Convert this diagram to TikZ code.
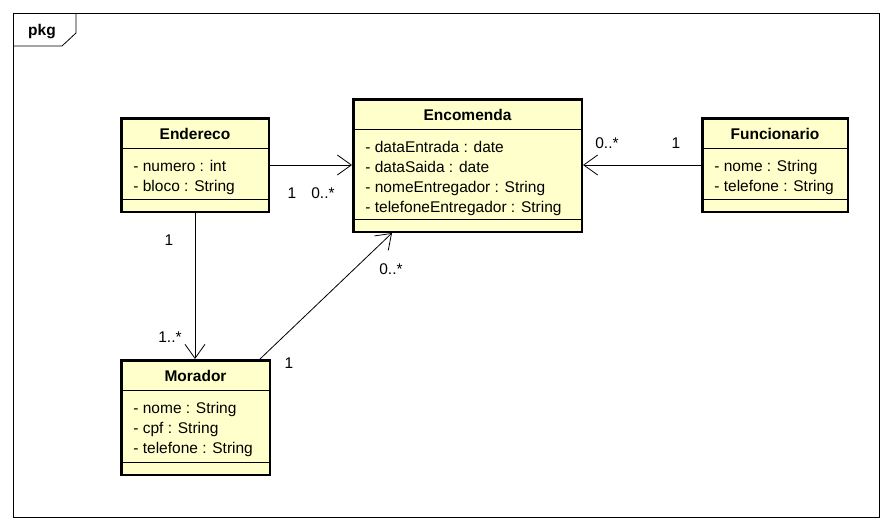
\documentclass[tikz,border=0pt]{standalone}
\usepackage{fontspec}
\setmainfont{Liberation Sans}
\usetikzlibrary{calc,arrows.meta}
\definecolor{classfill}{RGB}{255,255,204}
\tikzset{>={Straight Barb[length=14pt,width=20pt]}}
\tikzset{
  umlbox/.style={draw,line width=2.5pt,fill=classfill,anchor=north west,inner sep=0pt},
  txt/.style={font=\fontsize{15.5}{20}\selectfont,inner sep=0pt},
}
\newcommand{\umlclass}[6]{% name, corner, width, height, title, attributes
  \node[umlbox,minimum width={#3pt-2.5pt},minimum height={#4pt-2.5pt}] (#1) at #2 {};
  \draw ($(#1.north west)+(0,31)$) -- ($(#1.north east)+(0,31)$);
  \draw ($(#1.south west)+(0,-14)$) -- ($(#1.south east)+(0,-14)$);
  \node[txt,font=\fontsize{15.5}{20}\selectfont\bfseries,anchor=base] (#1-name) at ($(#1.north)+(0,22)$) {#5};
  \foreach \a [count=\i] in {#6}
    \node[txt,anchor=base west] (#1-\i) at ($(#1.north west)+(13,34+20*\i)$) {\a};
}

\begin{document}
\begin{tikzpicture}[x=1pt,y=-1pt,line width=0.8pt]
  \useasboundingbox (0,0) rectangle (892,530);
  \draw (13,13) rectangle (879,517);
  \draw (13,46) -- (62,46) -- (76,33) -- (76,13);
  \node[txt,font=\fontsize{15.5}{20}\selectfont\bfseries,anchor=base] (pkg) at (42,35) {pkg};

  \umlclass{endereco}{(120,117)}{150}{96}{Endereco}{- numero : int, - bloco : String}
  \umlclass{encomenda}{(352,98)}{231}{135}{Encomenda}{- dataEntrada : date, - dataSaida : date, - nomeEntregador : String, - telefoneEntregador : String}
  \umlclass{morador}{(120,359)}{151}{117}{Morador}{- nome : String, - cpf : String, - telefone : String}
  \umlclass{funcionario}{(701,117)}{148}{96}{Funcionario}{- nome : String, - telefone : String}

  \draw[->] (endereco.east) -- (endereco.east -| encomenda.west);
  \draw[->] (endereco.south) -- (endereco.south |- morador.north);
  \draw[->] ($(morador.north east)+(-11,0)$) -- ($(encomenda.south west)+(40,0)$);
  \draw[->] (funcionario.west) -- (funcionario.west -| encomenda.east);

  \node[txt] (ee1) at (292,193) {1};
  \node[txt] (ee2) at (323,193) {0..*};
  \node[txt] (em1) at (169,240) {1};
  \node[txt] (em2) at (170,337) {1..*};
  \node[txt] (me1) at (289,363) {1};
  \node[txt] (me2) at (391,269) {0..*};
  \node[txt] (fe1) at (607,143) {0..*};
  \node[txt] (fe2) at (676,143) {1};
\end{tikzpicture}
\end{document}
